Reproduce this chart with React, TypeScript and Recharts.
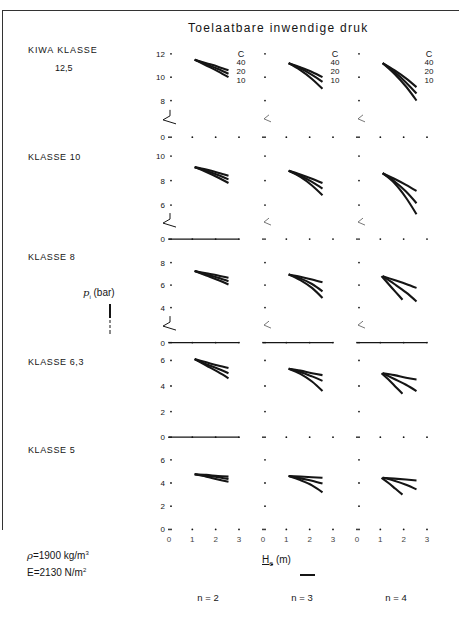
import React from "react";
import { LineChart, Line, XAxis, YAxis, ReferenceLine, ReferenceDot } from "recharts";

const klassen = ["12,5", "10", "8", "6,3", "5"];
const nValues = [2, 3, 4];
const cValues = [40, 20, 10];
const xTicks = [0, 1, 2, 3];
const xTickLabels = ["0", "1", "2", "3"];
const yTicks = [
  [0, 8, 10, 12],
  [0, 6, 8, 10],
  [0, 4, 6, 8],
  [0, 2, 4, 6],
  [0, 2, 4, 6],
];

// He (m)
const he = [1.1, 1.6, 2.1, 2.55];
const heShort = [1.05, 1.35, 1.65, 1.95]; // n = 4, C = 10 for klasse 8, 6,3 and 5

// pi (bar); rows are C = 40, 20, 10
const p125n2 = [[11.5, 11.2, 10.9, 10.6], [11.5, 11.1, 10.7, 10.3], [11.5, 11.0, 10.5, 10.0]];
const p125n3 = [[11.2, 10.85, 10.45, 10.0], [11.2, 10.75, 10.2, 9.6], [11.2, 10.6, 9.85, 9.0]];
const p125n4 = [[11.2, 10.6, 9.9, 9.15], [11.2, 10.45, 9.55, 8.6], [11.2, 10.3, 9.2, 8.0]];
const p10n2 = [[9.1, 8.9, 8.65, 8.4], [9.1, 8.8, 8.45, 8.1], [9.1, 8.7, 8.25, 7.8]];
const p10n3 = [[8.8, 8.5, 8.15, 7.8], [8.8, 8.4, 7.9, 7.35], [8.8, 8.3, 7.6, 6.8]];
const p10n4 = [[8.6, 8.15, 7.65, 7.15], [8.6, 7.95, 7.1, 6.15], [8.6, 7.8, 6.6, 5.25]];
const p8n2 = [[7.25, 7.05, 6.85, 6.65], [7.25, 6.95, 6.65, 6.35], [7.25, 6.85, 6.45, 6.05]];
const p8n3 = [[6.95, 6.75, 6.5, 6.25], [6.95, 6.6, 6.1, 5.45], [6.95, 6.45, 5.75, 4.85]];
const p8n4 = [[6.8, 6.45, 6.1, 5.75], [6.8, 6.1, 5.35, 4.55], [6.8, 6.1, 5.4, 4.7]];
const p63n2 = [[6.1, 5.85, 5.6, 5.4], [6.1, 5.7, 5.35, 5.0], [6.1, 5.6, 5.1, 4.6]];
const p63n3 = [[5.35, 5.2, 5.0, 4.85], [5.35, 5.1, 4.75, 4.4], [5.35, 4.95, 4.35, 3.6]];
const p63n4 = [[5.0, 4.85, 4.65, 4.5], [5.0, 4.55, 4.1, 3.6], [5.0, 4.5, 3.95, 3.4]];
const p5n2 = [[4.75, 4.7, 4.6, 4.55], [4.75, 4.6, 4.5, 4.35], [4.75, 4.55, 4.3, 4.1]];
const p5n3 = [[4.6, 4.55, 4.5, 4.45], [4.6, 4.4, 4.2, 3.95], [4.6, 4.25, 3.8, 3.2]];
const p5n4 = [[4.45, 4.38, 4.3, 4.22], [4.45, 4.2, 3.85, 3.45], [4.45, 4.0, 3.5, 3.0]];

const pressures = [
  [p125n2, p125n3, p125n4],
  [p10n2, p10n3, p10n4],
  [p8n2, p8n3, p8n4],
  [p63n2, p63n3, p63n4],
  [p5n2, p5n3, p5n4],
];

// layout of the broken y axes (value at top / at "0" and their pixel rows)
const rows = [
  { top: 12.5, topPx: 47.5, floor: 4.86, floorPx: 136.7, base: [0, 0, 0] },
  { top: 10.5, topPx: 149.9, floor: 3.22, floorPx: 239, base: [1, 0, 0] },
  { top: 8.5, topPx: 257.4, floor: 0.89, floorPx: 343, base: [1, 1, 1] },
  { top: 6.5, topPx: 353.8, floor: 0, floorPx: 437, base: [1, 0, 0] },
  { top: 6.5, topPx: 453.6, floor: 0, floorPx: 529, base: [0, 0, 0] },
];

const COL_X = [169, 263, 357];
const PLOT_W = 70;
const AXIS_W = 34;
const XAXIS_H = 16;
const INK = "#151515";
const FONT = '"Liberation Sans", Arial, sans-serif';

const XTick = ({ x, y, payload, showLabel }: any) => (
  <g>
    <circle cx={x} cy={y} r={0.9} fill={INK} />
    {showLabel && (
      <text x={x} y={y + 13} textAnchor="middle" fontSize={8} fill="#444" fontFamily={FONT}>
        {xTickLabels[xTicks.indexOf(payload.value)]}
      </text>
    )}
  </g>
);

const YTick = ({ x, y, payload, showLabel, floor }: any) => (
  <g>
    <circle cx={x + 2} cy={y} r={0.9} fill={INK} />
    {showLabel && (
      <text x={x - 4} y={y + 3} textAnchor="end" fontSize={8} fill={INK} fontFamily={FONT}>
        {payload.value === floor ? "0" : payload.value}
      </text>
    )}
  </g>
);

const Zig = ({ cx, cy, big }: any) =>
  big ? (
    <polyline
      points={`${cx + 1},${cy - 9} ${cx + 1},${cy - 3} ${cx - 6},${cy + 1} ${cx + 7},${cy + 5}`}
      fill="none"
      stroke={INK}
      strokeWidth={1}
    />
  ) : (
    <polyline
      points={`${cx + 6},${cy - 4} ${cx + 1},${cy} ${cx + 8},${cy + 3}`}
      fill="none"
      stroke="#555"
      strokeWidth={0.8}
    />
  );

const Panel = ({ r, c }: { r: number; c: number }) => {
  const L = rows[r];
  const ticks = yTicks[r].map((t) => (t === 0 ? L.floor : t));
  const h = L.floorPx - L.topPx + XAXIS_H;
  const shortC10 = c === 2 && r >= 2;
  return (
    <div style={{ position: "absolute", left: COL_X[c] - AXIS_W, top: L.topPx }}>
      <LineChart width={AXIS_W + PLOT_W + 10} height={h} margin={{ top: 0, right: 10, bottom: 0, left: 0 }}>
        <XAxis
          type="number"
          dataKey="he"
          domain={[0, 3]}
          ticks={xTicks}
          interval={0}
          axisLine={false}
          tickLine={false}
          tickSize={0}
          tickMargin={0}
          height={XAXIS_H}
          allowDataOverflow
          tick={<XTick showLabel={r === 4} />}
        />
        <YAxis
          type="number"
          domain={[L.floor, L.top]}
          ticks={ticks}
          interval={0}
          width={AXIS_W}
          axisLine={false}
          tickLine={false}
          tickSize={0}
          tickMargin={0}
          allowDataOverflow
          tick={<YTick showLabel={c === 0} floor={L.floor} />}
        />
        {L.base[c] === 1 && <ReferenceLine y={L.floor} stroke={INK} strokeWidth={1.2} />}
        {L.floor > 0 && (
          <ReferenceDot
            x={0}
            y={(L.floor + yTicks[r][1]) / 2}
            ifOverflow="visible"
            shape={(p: any) => <Zig cx={p.cx} cy={p.cy} big={c === 0} />}
          />
        )}
        {cValues.map((cv, i) => {
          const xs = shortC10 && cv === 10 ? heShort : he;
          const data = xs.map((x, j) => ({ he: x, p: pressures[r][c][i][j] }));
          return (
            <Line
              key={cv}
              data={data}
              dataKey="p"
              type="monotone"
              stroke={INK}
              strokeWidth={2.1}
              dot={false}
              isAnimationActive={false}
            />
          );
        })}
      </LineChart>
    </div>
  );
};

const txt = (left: number, cy: number, size: number, content: React.ReactNode, extra: any = {}) => (
  <div
    style={{
      position: "absolute",
      left,
      top: cy - size / 2,
      fontSize: size,
      lineHeight: 1,
      fontFamily: FONT,
      color: INK,
      whiteSpace: "nowrap",
      ...extra,
    }}
  >
    {content}
  </div>
);

const labelY = [50, 157, 257, 362, 450];

export default function App() {
  return (
    <div style={{ position: "absolute", left: 0, top: 0, width: 459, height: 623, background: "#fff", overflow: "hidden" }}>
      <div style={{ position: "absolute", left: 3, top: 10, width: 456, height: 0, borderTop: "1px solid #333" }} />
      <div style={{ position: "absolute", left: 2, top: 10, width: 0, height: 520, borderLeft: "1.5px solid #333" }} />

      {txt(188, 28, 12, "Toelaatbare  inwendige  druk", { letterSpacing: 1.3 })}

      {klassen.map((k, i) =>
        i === 0 ? (
          <React.Fragment key={k}>
            {txt(28, labelY[0], 9, "KIWA KLASSE", { letterSpacing: 0.9 })}
            {txt(55, 68, 9, k)}
          </React.Fragment>
        ) : (
          <React.Fragment key={k}>{txt(28, labelY[i], 9, "KLASSE " + k, { letterSpacing: 0.6 })}</React.Fragment>
        )
      )}

      {txt(83, 293, 10, (
        <span>
          <i style={{ fontFamily: "DejaVu Serif, serif" }}>p</i>
          <sub style={{ fontSize: 6 }}>i</sub> (bar)
        </span>
      ))}
      <svg style={{ position: "absolute", left: 105, top: 300 }} width={10} height={36}>
        <line x1={5} y1={4} x2={5} y2={34} stroke={INK} strokeWidth={1} strokeDasharray="14 2 3 2 3 2" />
        <line x1={5} y1={4} x2={5} y2={18} stroke={INK} strokeWidth={2} />
      </svg>

      {rows.map((_, r) => nValues.map((_n, c) => <Panel key={`${r}-${c}`} r={r} c={c} />))}

      {COL_X.map((x, c) => (
        <React.Fragment key={c}>
          <div style={{ position: "absolute", left: x + 62, top: 50, width: 20, textAlign: "center", fontFamily: FONT, fontSize: 8, lineHeight: "8px", color: INK }}>
            <div style={{ fontSize: 9 }}>C</div>
            {cValues.map((cv) => (
              <div key={cv} style={{ marginTop: 1 }}>{cv}</div>
            ))}
          </div>
        </React.Fragment>
      ))}

      {txt(262, 560, 10, (
        <span>
          <span style={{ textDecoration: "underline" }}>
            H<sub style={{ fontSize: 7 }}>e</sub>
          </span>{" "}
          (m)
        </span>
      ))}
      <div style={{ position: "absolute", left: 300, top: 574, width: 15, height: 2, background: INK }} />

      {nValues.map((n, c) => (
        <div
          key={n}
          style={{ position: "absolute", left: COL_X[c] + 14, top: 592, width: 50, textAlign: "center", fontFamily: FONT, fontSize: 9.5, color: INK }}
        >
          n = {n}
        </div>
      ))}

      {txt(27, 555, 10, (
        <span>
          <i style={{ fontFamily: "DejaVu Serif, serif" }}>ρ</i>=1900 kg/m<sup style={{ fontSize: 6 }}>3</sup>
        </span>
      ))}
      {txt(27, 572, 10, (
        <span>
          E=2130 N/m<sup style={{ fontSize: 6 }}>2</sup>
        </span>
      ))}
    </div>
  );
}
